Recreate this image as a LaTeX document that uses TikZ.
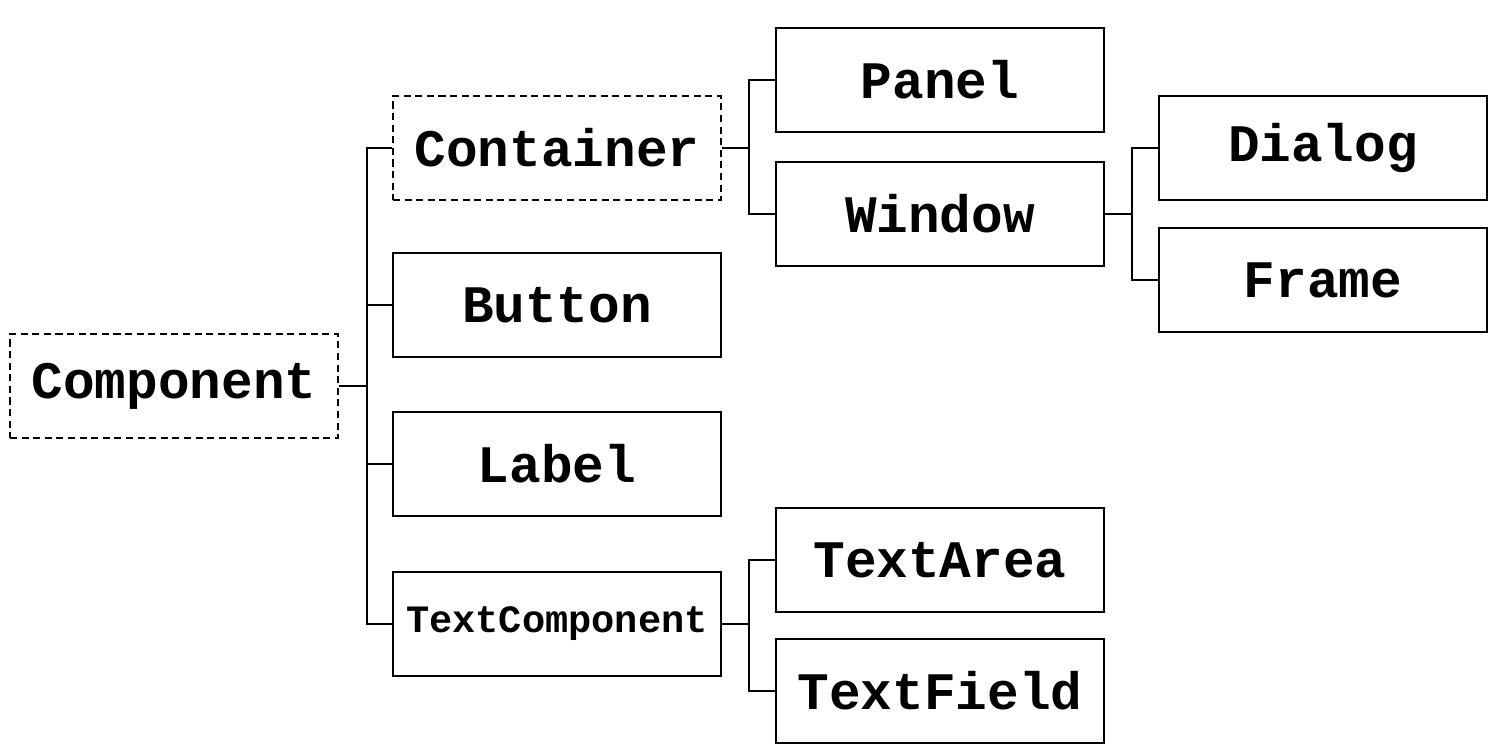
\documentclass[tikz,border=0pt]{standalone}
\usepackage{fontspec}
\setmonofont{Liberation Mono}
\usepackage{tikz}

\begin{document}
\begin{tikzpicture}[y=-1cm,
  cls/.style={draw=black, line width=0.7pt, minimum width=3.28cm, minimum height=1.04cm,
    inner sep=0pt, font=\ttfamily\bfseries\fontsize{15}{17}\selectfont},
  abstractcls/.style={cls, dash pattern=on 2pt off 1.3pt},
  link/.style={line width=0.7pt}]
 \path[use as bounding box] (0,0) rectangle (15,7.49);

\node[abstractcls] (comp) at (1.74,3.86) {Component};
\node[abstractcls] (cont) at (5.57,1.48) {Container};
\node[cls] (btn) at (5.57,3.05) {Button};
\node[cls] (lbl) at (5.57,4.64) {Label};
\node[cls, font=\ttfamily\bfseries\fontsize{11}{13}\selectfont] (tcomp) at (5.57,6.24) {TextComponent};
\node[cls] (pnl) at (9.40,0.80) {Panel};
\node[cls] (win) at (9.40,2.14) {Window};
\node[cls] (dlg) at (13.23,1.48) {Dialog};
\node[cls] (frm) at (13.23,2.80) {Frame};
\node[cls] (tarea) at (9.40,5.60) {TextArea};
\node[cls] (tfield) at (9.40,6.91) {TextField};

% inheritance links
\draw[link] (comp.east) -- ++(0.28,0) coordinate (j1);
\foreach \n in {cont, btn, lbl, tcomp}
	\draw[link] (j1) |- (\n.west);

\draw[link] (cont.east) -- ++(0.27,0) coordinate (j2);
\foreach \n in {pnl, win}
	\draw[link] (j2) |- (\n.west);

\draw[link] (win.east) -- ++(0.27,0) coordinate (j3);
\foreach \n in {dlg, frm}
	\draw[link] (j3) |- (\n.west);

\draw[link] (tcomp.east) -- ++(0.27,0) coordinate (j4);
\foreach \n in {tarea, tfield}
	\draw[link] (j4) |- (\n.west);

\end{tikzpicture}
\end{document}
